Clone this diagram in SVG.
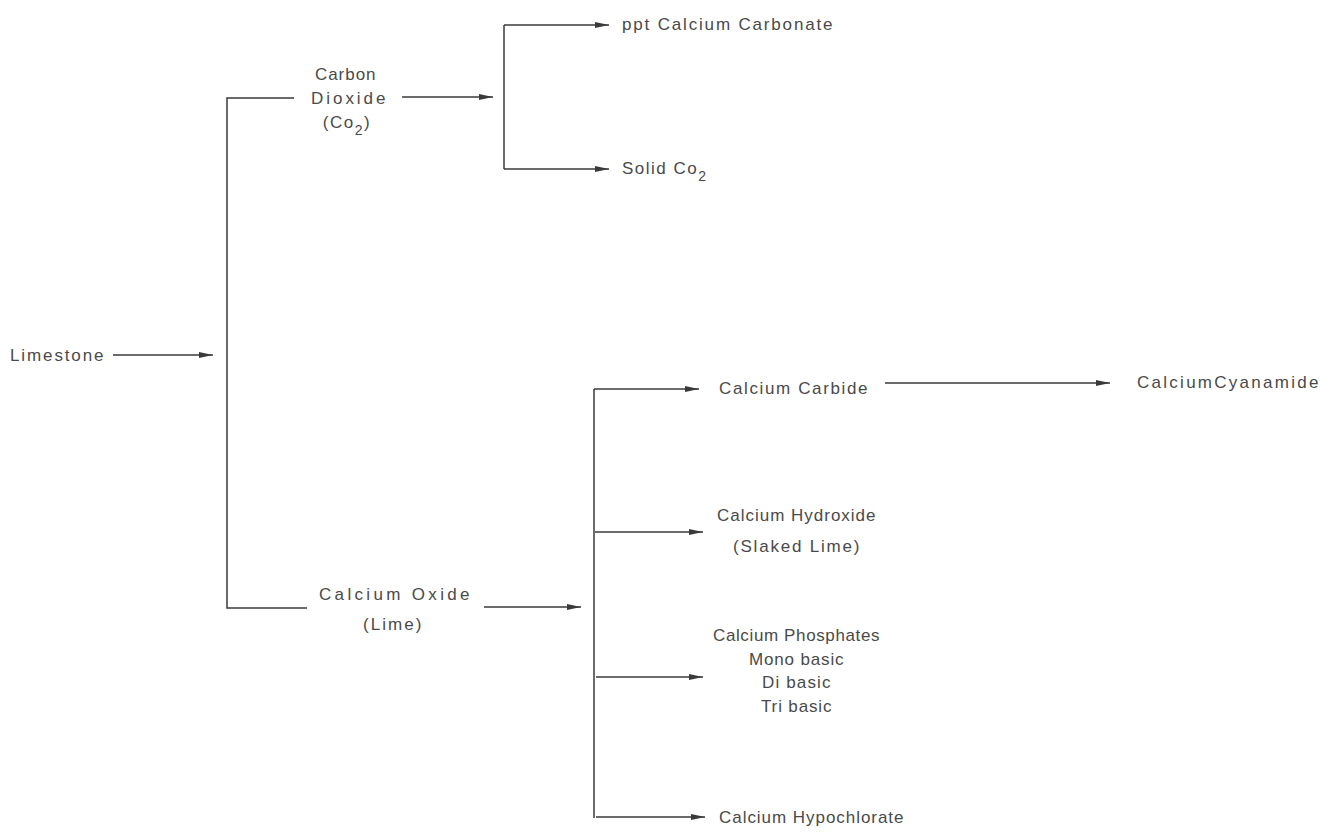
<svg xmlns="http://www.w3.org/2000/svg" width="1335" height="835" viewBox="0 0 1335 835">
<defs>
<marker id="ah" viewBox="0 0 14 6" refX="14" refY="3" markerWidth="14" markerHeight="6" markerUnits="userSpaceOnUse" orient="auto">
<path d="M0,0 L14,3 L0,6 Z" fill="#3a3a3a"/>
</marker>
<style>
text{font-family:"Liberation Sans",Arial,sans-serif;font-size:17px;fill:#4a4a4a;letter-spacing:1.5px}
.c{text-anchor:middle}
.ln{stroke:#3a3a3a;stroke-width:1.5;fill:none}
.ar{stroke:#3a3a3a;stroke-width:1.5;fill:none;marker-end:url(#ah)}
</style>
</defs>
<rect width="1335" height="835" fill="#fff"/>
<g id="connectors">
<path class="ar" d="M113,355 H213"/>
<path class="ln" d="M294,98 H227 V608 H307"/>
<path class="ar" d="M402,97 H493"/>
<path class="ln" d="M504,25 V169"/>
<path class="ar" d="M504,25 H609"/>
<path class="ar" d="M504,169 H609"/>
<path class="ar" d="M484,607 H581"/>
<path class="ln" d="M594,389 V818"/>
<path class="ar" d="M594,389 H699"/>
<path class="ar" d="M595,532 H703"/>
<path class="ar" d="M596,677 H703"/>
<path class="ar" d="M596,817 H705"/>
<path class="ar" d="M885,383 H1110"/>
</g>
<g id="limestone"><text x="10" y="361" textLength="95" lengthAdjust="spacing">Limestone</text></g>
<g id="co2"><text class="c" x="346" y="80" textLength="62" lengthAdjust="spacing">Carbon</text><text class="c" x="349" y="104" textLength="76" lengthAdjust="spacing">Dioxide</text><text class="c" x="347" y="128">(Co<tspan font-size="14" dy="7">2</tspan><tspan dy="-7">)</tspan></text></g>
<g id="ppt"><text x="622" y="30" textLength="212" lengthAdjust="spacing">ppt Calcium Carbonate</text></g>
<g id="solidco2"><text x="622" y="174">Solid Co<tspan font-size="14" dy="7">2</tspan></text></g>
<g id="cao"><text class="c" x="395" y="600" textLength="152" lengthAdjust="spacing">Calcium Oxide</text><text class="c" x="393" y="630" textLength="60" lengthAdjust="spacing">(Lime)</text></g>
<g id="carbide"><text x="719" y="394" textLength="150" lengthAdjust="spacing">Calcium Carbide</text></g>
<g id="cyanamide"><text x="1137" y="388" textLength="183" lengthAdjust="spacing">CalciumCyanamide</text></g>
<g id="hydroxide"><text class="c" x="797" y="521" textLength="160" lengthAdjust="spacing">Calcium Hydroxide</text><text class="c" x="797" y="552" textLength="128" lengthAdjust="spacing">(Slaked Lime)</text></g>
<g id="phosphates"><text class="c" x="797" y="641" textLength="168" lengthAdjust="spacing">Calcium Phosphates</text><text class="c" x="797" y="665" textLength="96" lengthAdjust="spacing">Mono basic</text><text class="c" x="797" y="688" textLength="70" lengthAdjust="spacing">Di basic</text><text class="c" x="797" y="712" textLength="72" lengthAdjust="spacing">Tri basic</text></g>
<g id="hypochlorate"><text x="719" y="823" textLength="186" lengthAdjust="spacing">Calcium Hypochlorate</text></g>
</svg>
